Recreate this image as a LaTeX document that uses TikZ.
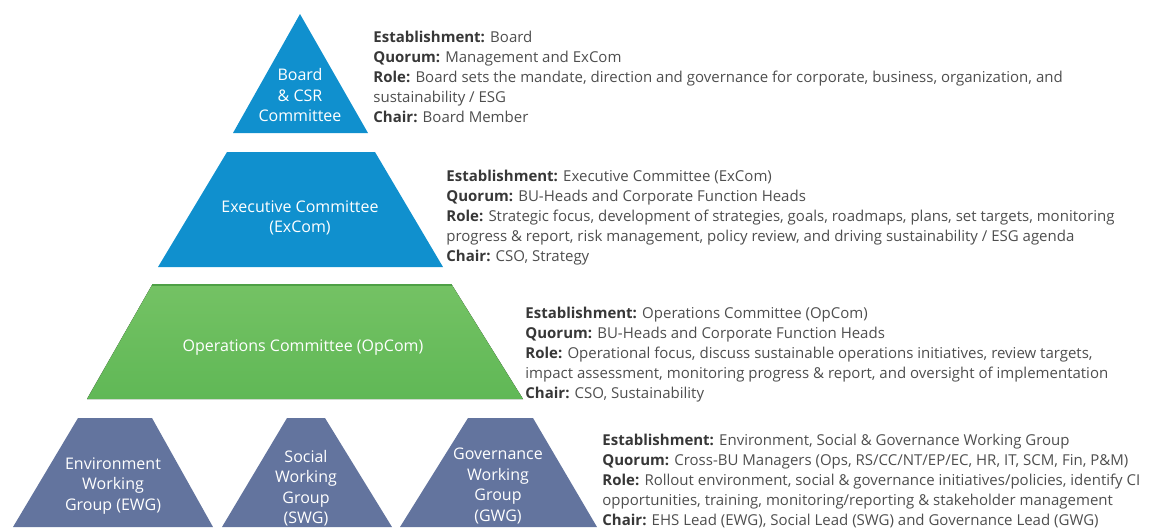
\documentclass[tikz,border=0pt]{standalone}
\usepackage{fontspec}
\setmainfont{Open Sans}

\definecolor{boardblue}{RGB}{16,144,206}
\definecolor{opgreen}{RGB}{96,184,86}
\definecolor{opgreenlt}{RGB}{116,194,100}
\definecolor{opedge}{RGB}{78,160,70}
\definecolor{wgslate}{RGB}{99,116,158}
\definecolor{txtgray}{RGB}{78,78,78}
\definecolor{lblgray}{RGB}{55,55,55}

\newcommand{\lbl}[1]{{\color{lblgray}\textbf{#1}}}

\tikzset{
  tier/.style={font=\fontsize{8}{10.2}\selectfont, text=white, align=center, inner sep=0pt},
  info/.style={font=\fontsize{7.5}{9.9}\selectfont, text=txtgray, align=left, anchor=north west, inner sep=0pt},
}

\begin{document}
\begin{tikzpicture}[x=0.5pt, y=-0.5pt]
    \useasboundingbox (0,0) rectangle (1153,527);

    % tiers of the pyramid
    \fill[boardblue] (300,14) -- (368,133) -- (233,133) -- cycle;
    \fill[boardblue] (227,152) -- (375,152) -- (443,267) -- (158,267) -- cycle;
    \fill[top color=opgreenlt, bottom color=opgreen] (152,285) -- (452,285) -- (523,399) -- (87,399) -- cycle;
    \draw[opedge, line width=0.8pt] (152,285) -- (452,285);
    \fill[wgslate] (78,418) -- (152,418) -- (213,527) -- (13,527) -- cycle;
    \fill[wgslate] (287,418) -- (325,418) -- (392,527) -- (222,527) -- cycle;
    \fill[wgslate] (468,418) -- (533,418) -- (597,527) -- (400,527) -- cycle;

    % tier labels
    \node[tier] (board) at (300,95) {Board\\\& CSR\\Committee};
    \node[tier] (excom) at (300,218) {Executive Committee\\(ExCom)};
    \node[tier] (opcom) at (303,348) {Operations Committee (OpCom)};
    \node[tier] (ewg) at (113,486) {Environment\\Working\\Group (EWG)};
    \node[tier] (swg) at (306,488) {Social\\Working\\Group\\(SWG)};
    \node[tier] (gwg) at (498,486) {Governance\\Working\\Group\\(GWG)};

    % descriptions
    \node[info] (boardinfo) at (373,31) {\lbl{Establishment:} Board\\
        \lbl{Quorum:} Management and ExCom\\
        \lbl{Role:} Board sets the mandate, direction and governance for corporate, business, organization, and\\
        sustainability / ESG\\
        \lbl{Chair:} Board Member};
    \node[info] (excominfo) at (446,170) {\lbl{Establishment:} Executive Committee (ExCom)\\
        \lbl{Quorum:} BU-Heads and Corporate Function Heads\\
        \lbl{Role:} Strategic focus, development of strategies, goals, roadmaps, plans, set targets, monitoring\\
        progress \& report, risk management, policy review, and driving sustainability / ESG agenda\\
        \lbl{Chair:} CSO, Strategy};
    \node[info] (opcominfo) at (525,307) {\lbl{Establishment:} Operations Committee (OpCom)\\
        \lbl{Quorum:} BU-Heads and Corporate Function Heads\\
        \lbl{Role:} Operational focus, discuss sustainable operations initiatives, review targets,\\
        impact assessment, monitoring progress \& report, and oversight of implementation\\
        \lbl{Chair:} CSO, Sustainability};
    \node[info] (wginfo) at (602,434) {\lbl{Establishment:} Environment, Social \& Governance Working Group\\
        \lbl{Quorum:} Cross-BU Managers (Ops, RS/CC/NT/EP/EC, HR, IT, SCM, Fin, P\&M)\\
        \lbl{Role:} Rollout environment, social \& governance initiatives/policies, identify CI\\
        opportunities, training, monitoring/reporting \& stakeholder management\\
        \lbl{Chair:} EHS Lead (EWG), Social Lead (SWG) and Governance Lead (GWG)};
\end{tikzpicture}
\end{document}
